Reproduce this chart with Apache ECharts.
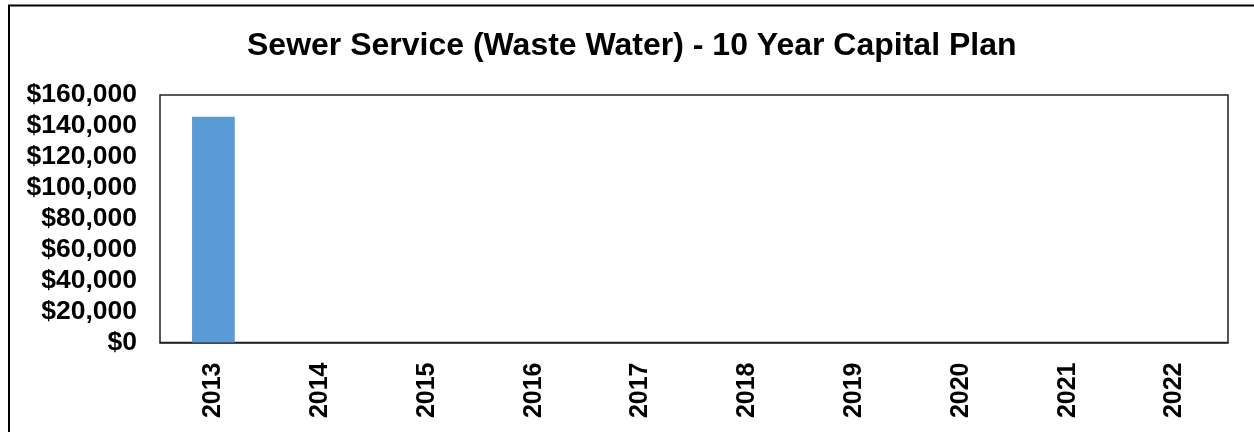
<!DOCTYPE html>
<html>
<head>
<meta charset="utf-8">
<script src="https://cdn.jsdelivr.net/npm/echarts@6/dist/echarts.min.js"></script>
<style>
  html, body { margin: 0; padding: 0; background: #fff; }
  #chart { width: 1254px; height: 432px; }
</style>
</head>
<body>
<div id="chart"></div>
<script>
// data
const years = ["2013", "2014", "2015", "2016", "2017", "2018", "2019", "2020", "2021", "2022"];
const capitalCost = [146000, 0, 0, 0, 0, 0, 0, 0, 0, 0];
const yTicks = { min: 0, max: 160000, step: 20000 };

const chart = echarts.init(document.getElementById("chart"));
const font = "'Liberation Sans', Arial, sans-serif";

chart.setOption({
  animation: false,
  title: {
    text: "Sewer Service (Waste Water) - 10 Year Capital Plan",
    left: 242,
    top: 25,
    textStyle: { fontFamily: font, fontSize: 32, fontWeight: "bold", color: "#000" }
  },
  // outer chart frame
  graphic: [{
    type: "rect",
    shape: { x: 9, y: 5.5, width: 1270, height: 450 },
    style: { fill: "none", stroke: "#000", lineWidth: 2 },
    silent: true
  }],
  grid: {
    left: 160, right: 26, top: 95, bottom: 89.5,
    show: true, borderColor: "#222", borderWidth: 1.5
  },
  xAxis: {
    type: "category",
    data: years,
    axisLine: { lineStyle: { color: "#222", width: 1.5 } },
    axisTick: { show: false },
    axisLabel: {
      rotate: 90, margin: 20, color: "#000",
      fontFamily: font, fontSize: 25, fontWeight: "bold"
    }
  },
  yAxis: {
    type: "value",
    min: yTicks.min, max: yTicks.max, interval: yTicks.step,
    splitLine: { show: false },
    axisLine: { show: false },
    axisTick: { show: false },
    axisLabel: {
      margin: 23, color: "#000",
      fontFamily: font, fontSize: 26.5, fontWeight: "bold",
      formatter: v => "$" + v.toLocaleString("en-US")
    }
  },
  series: [{
    type: "bar",
    data: capitalCost,
    barCategoryGap: "60%",
    itemStyle: { color: "#5B9BD5" }
  }]
});
</script>
</body>
</html>
